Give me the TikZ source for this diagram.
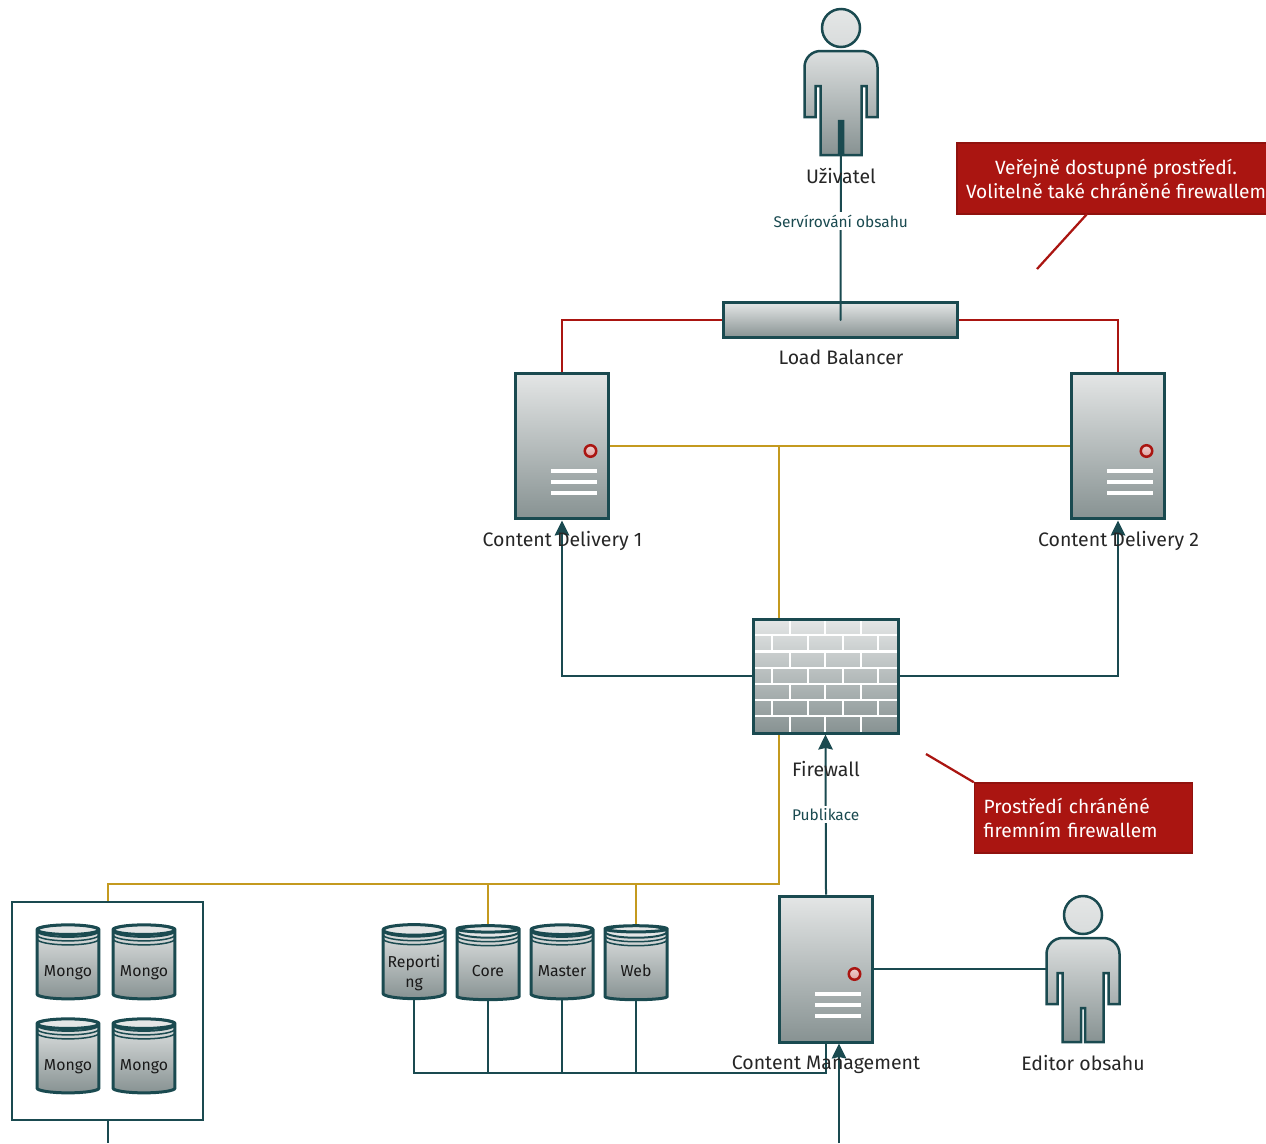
\documentclass[tikz,border=0pt]{standalone}
\usepackage{fontspec}
\setmainfont{Fira Sans}
\usetikzlibrary{shapes.geometric,backgrounds,arrows.meta}
\definecolor{deep}{HTML}{1A4A50}
\definecolor{alert}{HTML}{AA1511}
\definecolor{amber}{HTML}{C49A1F}
\definecolor{steelhi}{HTML}{E4E6E6}
\definecolor{steello}{HTML}{879292}
\tikzset{
  labeltext/.style={font=\fontsize{11.1}{13.6}\selectfont,text=black!85,inner sep=0pt},
  edgetext/.style={font=\fontsize{8.8}{11}\selectfont,text=deep,fill=white,inner sep=1.5pt},
  steel/.style={draw=deep,line width=.06cm,top color=steelhi,bottom color=steello,inner sep=0pt},
  serverbox/.style={steel,minimum width=1.86cm,minimum height=2.92cm,
    path picture={
      \foreach \ybar in {25,36,47} \fill[white] (-11.5,\ybar-1.7) rectangle (34.5,\ybar+1.7);
      \draw[alert,line width=.05cm,top color=alert!20,bottom color=alert!40] (28.5,5) circle[radius=.115cm];
    }},
  wallbox/.style={steel,minimum width=2.9cm,minimum height=2.28cm,
    path picture={
      \foreach \yrow in {-41,-24.5,-8,8,24,40} \draw[white,line width=.045cm] (-72.5,\yrow) -- (72.5,\yrow);
      \foreach \xb in {-35.5,-0.5,35.5} \foreach \yb in {-57,-24.5,8,40} \draw[white,line width=.045cm] (\xb,\yb) -- ++(0,16.5);
      \foreach \xb in {-53.5,-17.5,17.5,52.5} \foreach \yb in {-41,-8,24} \draw[white,line width=.045cm] (\xb,\yb) -- ++(0,16.5);
    }},
  dbnode/.style={steel,cylinder,shape border rotate=90,shape aspect=.2,minimum width=1.24cm,minimum height=1.48cm,
    font=\fontsize{9}{11.5}\selectfont,text=black!90,align=center,text height=.52cm,text depth=.06cm,
    path picture={
      \foreach \yrim in {10,14} \draw[deep,line width=.03cm] (path picture bounding box.north) ++(-31,\yrim) arc[start angle=180,end angle=360,x radius=.62cm,y radius=.12cm];
      \draw[deep,line width=.04cm,fill=steelhi] (path picture bounding box.north) ++(0,6) ellipse[x radius=.62cm,y radius=.12cm];
    }},
  personbox/.style={minimum width=1.46cm,minimum height=2.92cm,inner sep=0pt},
  personshape/.pic={
    \draw[draw=deep,line width=.05cm,top color=steelhi,bottom color=steelhi!88!steello] (0,-54) circle[radius=.38cm];
    \draw[draw=deep,line width=.05cm,top color=steelhi!92!steello,bottom color=steello,line join=miter]
      [rounded corners=.32cm] (-36.5,35) -- (-36.5,-31) -- (36.5,-31) [sharp corners] -- (36.5,35)
      -- (25.5,35) -- (25.5,4) -- (20.5,4) -- (20.5,73) -- (2,73) -- (2,39) -- (-2,39) -- (-2,73)
      -- (-20.5,73) -- (-20.5,4) -- (-25.5,4) -- (-25.5,35) -- cycle;
  },
  noteleft/.style={fill=alert,draw=alert!85!black,line width=.03cm,text=white,inner sep=0pt,
    font=\fontsize{10.9}{13.6}\selectfont},
  link/.style={draw=deep,line width=.04cm},
  arrowlink/.style={link,-{Stealth[length=.3cm,width=.29cm,inset=.03cm]}},
  redlink/.style={draw=alert,line width=.045cm},
  goldlink/.style={draw=amber,line width=.04cm}
}
\begin{document}
\begin{tikzpicture}[x=.02cm,y=-.02cm]
  \useasboundingbox (0,0) rectangle (1266,1143);
  % people
  \node[personbox] (user) at (841,82) {};
  \pic at (user) {personshape};
  \node[personbox] (editor) at (1083,969) {};
  \pic at (editor) {personshape};
  % balancer and servers
  \node[steel,minimum width=4.7cm,minimum height=.7cm] (lb) at (840.5,320) {};
  \node[serverbox] (cd1) at (562,446) {};
  \node[serverbox] (cd2) at (1118,446) {};
  \node[serverbox] (cm) at (826,969) {};
  \node[wallbox] (fw) at (825.5,676) {};
  % databases
  \node[draw=deep,line width=.05cm,minimum width=3.82cm,minimum height=4.36cm] (mongoset) at (107.5,1011) {};
  \node[dbnode] (m1) at (68,965) {Mongo};
  \node[dbnode] (m2) at (144,965) {Mongo};
  \node[dbnode] (m3) at (68,1059) {Mongo};
  \node[dbnode] (m4) at (144,1059) {Mongo};
  \node[dbnode,text height=.96cm] (rep) at (414,965) {Reporti\\ng};
  \node[dbnode] (core) at (488,965) {Core};
  \node[dbnode] (master) at (562,965) {Master};
  \node[dbnode] (web) at (636,965) {Web};
  % free ends and bends
  \coordinate (goldtop) at (779,446);
  \coordinate (goldbus) at (779,884);
  \coordinate (cmbus) at (826,1073);
  \coordinate (cmin) at (839,1143);
  \coordinate (mongoout) at (107.5,1143);
  \coordinate (usergap) at (841,122);
  \begin{scope}[on background layer]
    \draw[redlink] (lb.west) -| (cd1.north);
    \draw[redlink] (lb.east) -| (cd2.north);
    \draw[goldlink] (cd1.east) -- (cd2.west);
    \draw[goldlink] (goldtop) -- (goldbus) -| (mongoset.north);
    \draw[goldlink] (core.north) -- (core.north |- goldbus);
    \draw[goldlink] (web.north) -- (web.north |- goldbus);
    \draw[link] (rep.south) |- (cmbus) -- (cm.south);
    \draw[link] (core.south) -- (core.south |- cmbus);
    \draw[link] (master.south) -- (master.south |- cmbus);
    \draw[link] (web.south) -- (web.south |- cmbus);
    \draw[link] (mongoset.south) -- (mongoout);
    \draw[link] (cm.east) -- (editor.west);
  \end{scope}
  \draw[link,line cap=round] (usergap) -- (lb.center) node[edgetext,pos=.5] {Servírování obsahu};
  \draw[arrowlink] (fw.west) -| (cd1.south);
  \draw[arrowlink] (fw.east) -| (cd2.south);
  \draw[arrowlink] (cm.north) -- (fw.south) node[edgetext,pos=.5] {Publikace};
  \draw[arrowlink] (cmin) -- (cm.south -| cmin);
  % labels
  \node[labeltext] (userlabel) at (841,176) {Uživatel};
  \node[labeltext] (lblabel) at (841,357) {Load Balancer};
  \node[labeltext] (cd1label) at (562.5,541) {Content Delivery 1};
  \node[labeltext] (cd2label) at (1118.5,541) {Content Delivery 2};
  \node[labeltext] (fwlabel) at (826,769) {Firewall};
  \node[labeltext] (cmlabel) at (826,1065) {Content Management};
  \node[labeltext] (editorlabel) at (1083,1063) {Editor obsahu};
  % notes
  \node[noteleft,minimum width=6.36cm,minimum height=1.42cm,align=center] (pubnote) at (1116,178.5)
    {Veřejně dostupné prostředí.\\Volitelně také chráněné firewallem};
  \node[noteleft,minimum width=4.36cm,minimum height=1.4cm,align=left,text width=4cm] (privnote) at (1083.5,818)
    {Prostředí chráněné\\firemním firewallem};
  \coordinate (pubfoot) at (1087,214);
  \coordinate (pubtip) at (1037,269);
  \coordinate (privtip) at (926,754);
  \draw[redlink] (pubfoot) -- (pubtip);
  \draw[redlink] (privnote.north west) -- (privtip);
\end{tikzpicture}
\end{document}
